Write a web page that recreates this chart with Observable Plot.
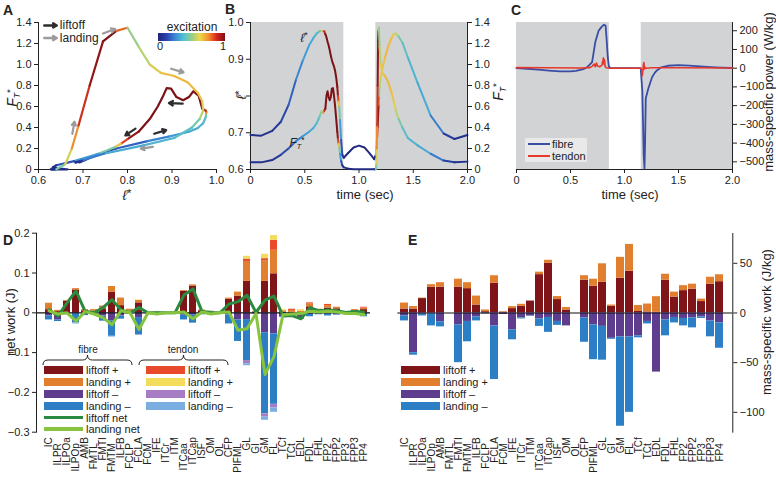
<!DOCTYPE html>
<html><head><meta charset="utf-8">
<script src="https://cdn.jsdelivr.net/npm/d3@7"></script>
<script src="https://cdn.jsdelivr.net/npm/@observablehq/plot@0.6"></script>
<style>
body{margin:0;background:#fff;}
#root{position:relative;width:776px;height:477px;overflow:hidden;font-family:"Liberation Sans",Arial,sans-serif;color:#222;}
#root > svg, #root > div.pl {position:absolute;}
.plab{position:absolute;font-weight:bold;font-size:14px;line-height:1;}
.lab{position:absolute;white-space:nowrap;line-height:1;}
.sw{position:absolute;height:8px;}
</style></head><body><div id="root"></div>
<script>
// ---------- data ----------
// shared time series (panels A & B): time (s), normalized fibre length, normalized tendon force, excitation
const time = [0,0.10,0.20,0.28,0.35,0.42,0.48,0.54,0.58,0.61,0.635,0.655,0.670,0.680,0.690,0.700,0.710,0.720,0.730,0.740,0.750,0.760,0.770,0.780,0.790,0.800,0.806,0.812,0.818,0.825,0.835,0.846,0.860,0.900,0.950,1.000,1.050,1.100,1.140,1.155,1.160,1.164,1.168,1.172,1.176,1.180,1.184,1.190,1.200,1.215,1.240,1.270,1.300,1.320,1.340,1.365,1.400,1.450,1.540,1.660,1.780,1.880,2.000];
const fibreLength = [0.694,0.692,0.705,0.730,0.775,0.845,0.895,0.938,0.958,0.970,0.976,0.977,0.977,0.976,0.968,0.960,0.948,0.938,0.925,0.910,0.898,0.888,0.880,0.868,0.850,0.825,0.800,0.785,0.770,0.735,0.680,0.640,0.632,0.645,0.660,0.665,0.660,0.643,0.628,0.640,0.660,0.675,0.690,0.715,0.745,0.775,0.800,0.825,0.850,0.875,0.905,0.935,0.958,0.968,0.970,0.962,0.945,0.905,0.836,0.747,0.698,0.683,0.694];
const tendonForce = [0.070,0.068,0.090,0.140,0.200,0.270,0.315,0.360,0.395,0.440,0.500,0.555,0.540,0.560,0.580,0.700,0.745,0.690,0.660,0.690,0.770,0.775,0.700,0.600,0.480,0.360,0.290,0.245,0.210,0.150,0.080,0.040,0.020,0.008,0.003,0.002,0.002,0.002,0.002,0.002,0.050,0.200,0.420,0.800,1.220,1.320,1.350,1.170,1.000,0.920,0.890,0.830,0.730,0.650,0.560,0.480,0.400,0.300,0.230,0.150,0.085,0.068,0.075];
const excitation = [0.05,0.05,0.07,0.12,0.18,0.25,0.30,0.33,0.35,0.38,0.45,0.55,0.75,0.92,1,1,1,1,1,1,1,1,1,1,1,0.97,0.85,0.65,0.45,0.30,0.15,0.06,0.03,0.02,0.02,0.02,0.02,0.02,0.03,0.45,0.60,0.75,0.88,0.97,1.0,0.80,0.50,0.55,0.62,0.66,0.68,0.67,0.65,0.62,0.55,0.45,0.40,0.36,0.33,0.23,0.10,0.05,0.05];
const phases = [{start:0,end:0.86},{start:1.155,end:2.0}];
const arrowsLiftoff = [{x1:0.818,y1:0.39,x2:0.795,y2:0.325},{x1:0.86,y1:0.34,x2:0.887,y2:0.375},{x1:0.924,y1:0.627,x2:0.893,y2:0.633}];
const arrowsLanding = [{x1:0.676,y1:0.34,x2:0.681,y2:0.455},{x1:0.745,y1:1.295,x2:0.772,y2:1.338},{x1:0.898,y1:0.96,x2:0.926,y2:0.925},{x1:0.857,y1:0.215,x2:0.83,y2:0.198}];
const arrowLegend = [{x1:0.613,y1:1.372,x2:0.641,y2:1.372,label:"liftoff"},{x1:0.613,y1:1.252,x2:0.641,y2:1.252,label:"landing"}];

// panel C: mass-specific power (W/kg)
const fibreTime = [0,0.1,0.2,0.3,0.4,0.5,0.55,0.6,0.62,0.66,0.70,0.73,0.76,0.79,0.81,0.825,0.835,0.845,0.855,0.87,0.9,1.0,1.1,1.15,1.165,1.172,1.178,1.185,1.19,1.197,1.22,1.255,1.28,1.3,1.34,1.4,1.5,1.6,1.7,1.8,1.9,2.0];
const fibrePower = [0,-3,-8,-13,-17,-17,-14,-8,-5,8,32,140,200,222,232,228,150,60,10,0,0,0,0,0,-120,-300,-470,-535,-420,-160,-110,-48,-25,-12,5,13,16,14,10,6,3,1];
const tendonTime = [0,0.3,0.6,0.68,0.70,0.72,0.73,0.74,0.75,0.77,0.79,0.80,0.805,0.81,0.815,0.82,0.83,0.86,1.0,1.15,1.16,1.165,1.17,1.175,1.18,1.185,1.19,1.2,1.25,1.5,2.0];
const tendonPower = [3,2,1,3,10,22,8,28,12,8,15,40,55,20,45,10,2,0,0,0,-10,-40,-15,20,30,-5,5,0,2,2,1];

// panels D & E
const muscles = ["IC","ILPR","ILPOa","ILPOp","AMB","FMTL","FMTI","FMTM","ILFB","FCLP","FCLA","FCM","IFE","ITCr","ITM","ITCaa","ITCap","ISF","OM","OL","CFP","PIFML","GL","GI","GM","FL","TCf","TCt","EDL","FDL","FHL","FP2","FPP2","FP3","FPP3","FP4"];
// D: net work (J)
const dFibreLiftoffPos = [0.008,0.003,0.029,0.056,0.005,0.004,0.010,0.052,0.018,0.004,0.025,0,0.001,0.001,0.002,0.054,0.066,0.005,0.002,0,0.034,0.042,0.079,0.002,0.079,0.098,0.001,0.001,0,0.015,0.006,0.012,0.010,0.002,0.005,0.008];
const dFibreLandingPos = [0.016,0.003,0.002,0.004,0.003,0.004,0.007,0.014,0.019,0.005,0.006,0,0.001,0,0,0.002,0.004,0.002,0.002,0,0.003,0.010,0.050,0.001,0.052,0.059,0.004,0.005,0.004,0.007,0.003,0.006,0.004,0.001,0.003,0.004];
const dTendonLiftoffPos = [0,0,0,0.001,0,0,0,0,0,0,0,0,0,0,0,0,0,0,0,0,0,0,0.006,0,0.005,0.025,0,0.003,0,0.003,0,0.003,0,0,0,0.002];
const dTendonLandingPos = [0,0,0,0,0,0,0,0,0,0,0.001,0,0,0,0,0,0,0,0,0,0,0,0.007,0,0.011,0.012,0.003,0,0.004,0,0,0,0,0,0,0];
const dFibreLiftoffNeg = [-0.008,-0.018,-0.002,-0.003,-0.004,0,-0.008,-0.020,-0.008,-0.002,-0.012,-0.002,-0.003,-0.001,-0.002,-0.006,-0.006,-0.003,-0.005,0,-0.005,-0.018,-0.017,-0.003,-0.050,-0.053,-0.010,-0.008,-0.016,-0.004,-0.002,-0.003,-0.002,-0.002,-0.002,-0.004];
const dFibreLandingNeg = [-0.010,-0.004,-0.003,-0.022,-0.003,0,-0.013,-0.039,-0.008,-0.001,-0.043,0,-0.001,0,0,-0.012,-0.020,-0.002,0,0,-0.023,-0.054,-0.103,0,-0.204,-0.177,-0.002,-0.003,0,-0.006,-0.003,-0.005,-0.004,-0.001,-0.002,-0.006];
const dTendonLiftoffNeg = [0,0,0,0,0,0,0,0,0,0,0,0,0,0,0,0,0,0,0,0,0,0,-0.008,0,-0.008,-0.009,0,0,0,0,0,0,0,0,0,0];
const dTendonLandingNeg = [0,0,0,-0.003,0,0,0,-0.002,0,0,-0.002,0,0,0,0,0,0,0,0,0,0,0,-0.005,0,-0.008,-0.011,0,0,0,0,0,0,0,0,0,0];
const dLiftoffNet = [0.008,-0.008,0.025,0.055,0.004,0,0.013,0.033,0.007,0,0.013,0,0,0,0,0.045,0.060,0.003,0.001,0,0.022,0.028,0.044,0.001,0.032,0.042,-0.008,-0.007,-0.015,0.013,0.005,0.007,0.005,0.001,0.003,0.002];
const dLandingNet = [0.005,-0.003,0,-0.021,0.003,-0.003,-0.012,-0.030,0.005,0,-0.042,0,-0.003,0,0,0.002,-0.015,0.002,-0.003,0,0.002,-0.044,-0.040,-0.002,-0.155,-0.110,-0.005,-0.003,-0.002,0.004,0.002,0.004,0.002,-0.002,-0.002,-0.005];
// E: mass-specific work (J/kg)
const eLiftoffPos = [4,4,14.5,26,26,0,26,24.5,8,1.3,30,0.8,4.4,6.7,12,38.6,50,13.5,3,0,33,27,31,6.7,35,42,1.5,1,0.7,33,16,22.5,24,11.5,29,31.5];
const eLandingPos = [6,2.5,0.5,2.5,4.5,0,8,6,9,1.7,7.5,0.5,2,2,0,2.5,3,3,2.5,0,4.5,7,18.5,1.3,21,27,6,8,15.7,6,5,5,5,2.5,7,7];
const eLiftoffNeg = [-3,-40,-1,-1,-9,0,-12,-8.5,-4,-0.5,-13,-1.5,-17,-5,-3,-6,-4.5,-8.5,-13,0,-5,-12,-13.5,-25.5,-24,-24,-23,-8.5,-59.5,-7,-4.5,-5.5,-5,-4,-8,-10];
const eLandingNeg = [-5,-2.5,-2,-12,-5,0,-38,-20.5,-4,-0.5,-54,0,-10,-1,-0.5,-7.5,-15,-4,0,0,-24.5,-35,-34,-1,-90,-76,-2,-2.5,0,-16,-5.5,-7.5,-10,-1.5,-16,-25.5];

// ---------- styles ----------
const jet = ["#1f2478","#2a43b0","#3a86d3","#4cc0dc","#93cf8a","#f0d84a","#f2932f","#d9271f","#7b1215"];
const excScale = {type:"linear", domain:[0,1], interpolate: d3.interpolateRgbBasis(jet)};
const font = "Liberation Sans, Arial, sans-serif";
const baseStyle = {fontFamily: font, fontSize: "11px", color: "#222", background: "transparent", overflow: "visible"};
const fmt1 = d => Math.abs(d) < 1e-9 ? "0" : d3.format(".1f")(d);
const series = [
  {name:"fibre liftoff +", color:"#7f1518"},
  {name:"fibre landing +", color:"#e17f2e"},
  {name:"tendon liftoff +", color:"#ea4a2c"},
  {name:"tendon landing +", color:"#f3dc5a"},
  {name:"fibre liftoff \u2013", color:"#5e3c8e"},
  {name:"fibre landing \u2013", color:"#2c7fc5"},
  {name:"tendon liftoff \u2013", color:"#a67cc4"},
  {name:"tendon landing \u2013", color:"#7aaee0"}
];
const liftoffNetColor = "#2a8a3e", landingNetColor = "#86c440";

const root = document.getElementById("root");
function put(el, left, top) { el.style.position = "absolute"; el.style.left = left + "px"; el.style.top = top + "px"; root.appendChild(el); return el; }
function label(html, cx, cy, size, rotate, extra) {
  const d = document.createElement("div");
  d.className = "lab"; d.innerHTML = html; d.style.fontSize = size + "px";
  d.style.left = cx + "px"; d.style.top = cy + "px";
  d.style.transform = "translate(-50%,-50%)" + (rotate ? " rotate(-90deg)" : "");
  if (extra) Object.assign(d.style, extra);
  root.appendChild(d); return d;
}
const ellHTML = '<i>\u2113</i><span style="font-size:0.8em;vertical-align:0.35em">*</span>';
const FtHTML = '<i>F</i><i style="font-size:0.62em;vertical-align:-0.3em">T</i><span style="font-size:0.7em;vertical-align:0.45em">*</span>';

const rows = time.map((t, i) => ({t, ell: fibreLength[i], force: tendonForce[i], exc: excitation[i]}));

// ---------- A ----------
const A = Plot.plot({
  width: 250, height: 205, marginLeft: 38, marginRight: 34, marginTop: 22, marginBottom: 36,
  style: baseStyle,
  x: {domain: [0.6, 1.0]}, y: {domain: [0, 1.4]}, color: excScale,
  marks: [
    Plot.frame({anchor: "left", stroke: "#222"}), Plot.frame({anchor: "bottom", stroke: "#222"}),
    Plot.axisX({ticks: [0.6,0.7,0.8,0.9,1.0], tickFormat: fmt1, tickSize: 4, tickPadding: 3, label: null}),
    Plot.axisY({ticks: [0,0.2,0.4,0.6,0.8,1.0,1.2,1.4], tickFormat: fmt1, tickSize: 4, tickPadding: 3, label: null}),
    Plot.line(rows, {x: "ell", y: "force", z: null, stroke: "exc", strokeWidth: 2.2}),
    Plot.arrow(arrowsLiftoff, {x1: "x1", y1: "y1", x2: "x2", y2: "y2", stroke: "#2d2d2d", strokeWidth: 2.2, headLength: 6}),
    Plot.arrow(arrowsLanding, {x1: "x1", y1: "y1", x2: "x2", y2: "y2", stroke: "#9b9b9b", strokeWidth: 2.2, headLength: 6}),
    Plot.arrow(arrowLegend.slice(0,1), {x1: "x1", y1: "y1", x2: "x2", y2: "y2", stroke: "#2d2d2d", strokeWidth: 2.4, headLength: 6}),
    Plot.arrow(arrowLegend.slice(1), {x1: "x1", y1: "y1", x2: "x2", y2: "y2", stroke: "#9b9b9b", strokeWidth: 2.4, headLength: 6}),
    Plot.text(arrowLegend, {x: d => d.x2 + 0.007, y: "y1", text: "label", textAnchor: "start", fontSize: 12, fill: "#222"})
  ]
});
put(A, 0, 0);
label(ellHTML, 127, 195, 14);
label(FtHTML, 13, 98, 14, true);
// colour bar
label("excitation", 192, 27, 12);
const cb = document.createElement("div");
cb.style.width = "67px"; cb.style.height = "8px";
cb.style.background = "linear-gradient(to right," + jet.join(",") + ")";
put(cb, 158, 33);
label("0", 160, 46, 11); label("1", 223, 46, 11);

// ---------- B ----------
const B1 = Plot.plot({
  width: 300, height: 205, marginLeft: 35, marginRight: 48, marginTop: 22, marginBottom: 36,
  style: baseStyle,
  x: {domain: [0, 2]}, y: {domain: [0.6, 1.0]}, color: excScale,
  marks: [
    Plot.rect(phases, {x1: "start", x2: "end", fill: "#d2d3d5"}),
    Plot.frame({anchor: "left", stroke: "#222"}), Plot.frame({anchor: "bottom", stroke: "#222"}),
    Plot.axisX({ticks: [0,0.5,1,1.5,2], tickFormat: fmt1, tickSize: 4, tickPadding: 3, label: null}),
    Plot.axisY({ticks: [0.6,0.7,0.8,0.9,1.0], tickFormat: d => Math.abs(d-0.8) < 1e-9 ? "" : d3.format(".1f")(d), tickSize: 4, tickPadding: 3, label: null}),
    Plot.line(rows, {x: "t", y: "ell", z: null, stroke: "exc", strokeWidth: 2})
  ]
});
put(B1, 215, 0);
const B2 = Plot.plot({
  width: 300, height: 205, marginLeft: 35, marginRight: 48, marginTop: 22, marginBottom: 36,
  style: baseStyle,
  x: {domain: [0, 2], axis: null}, y: {domain: [0, 1.4]}, color: excScale,
  marks: [
    Plot.frame({anchor: "right", stroke: "#222"}),
    Plot.axisY({anchor: "right", ticks: [0,0.2,0.4,0.6,0.8,1.0,1.2,1.4], tickFormat: fmt1, tickSize: 4, tickPadding: 3, label: null}),
    Plot.line(rows, {x: "t", y: "force", z: null, stroke: "exc", strokeWidth: 2})
  ]
});
put(B2, 215, 0);
label(ellHTML, 241, 95, 14, true);
label(FtHTML, 499, 92, 14, true);
label(ellHTML, 304, 37, 12);
label(FtHTML, 297, 143, 12);
label("time (sec)", 365, 194, 13);

// ---------- C ----------
const fibreRows = fibreTime.map((t, i) => ({t, p: fibrePower[i]}));
const tendonRows = tendonTime.map((t, i) => ({t, p: tendonPower[i]}));
const C = Plot.plot({
  width: 296, height: 205, marginLeft: 36, marginRight: 44, marginTop: 22, marginBottom: 36,
  style: baseStyle,
  x: {domain: [0, 2]}, y: {domain: [-541, 244]},
  marks: [
    Plot.rect(phases, {x1: "start", x2: "end", fill: "#d2d3d5"}),
    Plot.frame({anchor: "right", stroke: "#222"}), Plot.frame({anchor: "bottom", stroke: "#222"}),
    Plot.axisX({ticks: [0,0.5,1,1.5,2], tickFormat: fmt1, tickSize: 4, tickPadding: 3, label: null}),
    Plot.axisY({anchor: "right", ticks: d3.range(-500, 201, 100), tickSize: 4, tickPadding: 3, label: null}),
    Plot.line(fibreRows, {x: "t", y: "p", stroke: "#3a4da6", strokeWidth: 1.8}),
    Plot.line(tendonRows, {x: "t", y: "p", stroke: "#e8382c", strokeWidth: 1.6})
  ]
});
put(C, 480, 0);
label("time (sec)", 630, 194, 13);
label("mass-specific power (W/kg)", 768, 92, 13, true);
const cl = document.createElement("div");
cl.style.cssText = "width:62px;height:24px;background:#e9e9ea;";
put(cl, 525, 137.5);
const cl1 = document.createElement("div"); cl1.style.cssText = "width:22px;height:2px;background:#3a4da6"; put(cl1, 528, 143);
const cl2 = document.createElement("div"); cl2.style.cssText = "width:22px;height:2px;background:#e8382c"; put(cl2, 528, 155);
label("fibre", 552, 144, 11, false, {transform: "translate(0,-50%)"});
label("tendon", 552, 156, 11, false, {transform: "translate(0,-50%)"});

// ---------- D ----------
function longRows(list) {
  const out = [];
  list.forEach(s => s.values.forEach((v, i) => out.push({muscle: muscles[i], series: s.name, value: v})));
  return out;
}
const dRows = longRows([
  {name: series[0].name, values: dFibreLiftoffPos}, {name: series[1].name, values: dFibreLandingPos},
  {name: series[2].name, values: dTendonLiftoffPos}, {name: series[3].name, values: dTendonLandingPos},
  {name: series[4].name, values: dFibreLiftoffNeg}, {name: series[5].name, values: dFibreLandingNeg},
  {name: series[6].name, values: dTendonLiftoffNeg}, {name: series[7].name, values: dTendonLandingNeg}
]);
const colorBars = {domain: series.map(s => s.name), range: series.map(s => s.color)};
const evenM = muscles.filter((d, i) => i % 2 === 0), oddM = muscles.filter((d, i) => i % 2 === 1);
const liftNetRows = muscles.map((m, i) => ({muscle: m, value: dLiftoffNet[i]}));
const landNetRows = muscles.map((m, i) => ({muscle: m, value: dLandingNet[i]}));
const D = Plot.plot({
  width: 390, height: 257, marginLeft: 36, marginRight: 20, marginTop: 12.7, marginBottom: 45.3,
  style: baseStyle,
  x: {domain: muscles, range: [41.3, 370.4], padding: 0.18}, y: {domain: [-0.3, 0.2]},
  color: colorBars,
  marks: [
    Plot.barY(dRows, {x: "muscle", y: "value", fill: "series"}),
    Plot.ruleY([0], {stroke: "#111", strokeWidth: 1.2}),
    Plot.lineY(liftNetRows, {x: "muscle", y: "value", stroke: liftoffNetColor, strokeWidth: 3}),
    Plot.lineY(landNetRows, {x: "muscle", y: "value", stroke: landingNetColor, strokeWidth: 3}),
    Plot.frame({anchor: "left", stroke: "#222"}),
    Plot.axisY({ticks: [0.2,0.1,0,-0.1,-0.2,-0.3], tickFormat: fmt1, tickSize: 4, tickPadding: 3, label: null}),
    Plot.axisX(evenM, {tickRotate: -90, tickSize: 0, tickPadding: 5, fontSize: 10, label: null}),
    Plot.axisX(oddM, {tickRotate: -90, tickSize: 0, tickPadding: 11, fontSize: 10, label: null})
  ]
});
put(D, 0, 220);
label("net work (J)", 10, 322, 13, true);

// D legend
function brace(x1, x2, yTop, yBot) {
  const m = (x1 + x2) / 2, ym = (yTop + yBot) / 2;
  return `M${x1},${yBot} Q${x1},${ym} ${x1+5},${ym} L${m-5},${ym} Q${m},${ym} ${m},${yTop} Q${m},${ym} ${m+5},${ym} L${x2-5},${ym} Q${x2},${ym} ${x2},${yBot}`;
}
const ns = "http://www.w3.org/2000/svg";
const bsvg = document.createElementNS(ns, "svg");
bsvg.setAttribute("width", 776); bsvg.setAttribute("height", 477);
bsvg.style.position = "absolute"; bsvg.style.left = "0px"; bsvg.style.top = "0px"; bsvg.style.pointerEvents = "none";
[[43, 132], [139, 228]].forEach(([a, b]) => {
  const p = document.createElementNS(ns, "path");
  p.setAttribute("d", brace(a, b, 355, 365)); p.setAttribute("fill", "none"); p.setAttribute("stroke", "#222"); p.setAttribute("stroke-width", "1");
  bsvg.appendChild(p);
});
root.appendChild(bsvg);
label("fibre", 88, 350, 10);
label("tendon", 183, 350, 10);
const legRowsY = [370, 382, 394, 406];
const legText = ["liftoff +", "landing +", "liftoff \u2013", "landing \u2013"];
const fibreIdx = [0, 1, 4, 5], tendonIdx = [2, 3, 6, 7];
function swatch(x, y, color, h) { const d = document.createElement("div"); d.className = "sw"; d.style.width = "39px"; d.style.height = h + "px"; d.style.background = color; put(d, x, y - h / 2); }
legRowsY.forEach((y, k) => {
  swatch(44, y, series[fibreIdx[k]].color, 8);
  label(legText[k], 86, y, 11, false, {transform: "translate(0,-50%)"});
  swatch(146, y, series[tendonIdx[k]].color, 8);
  label(legText[k], 188, y, 11, false, {transform: "translate(0,-50%)"});
});
swatch(44, 417.5, liftoffNetColor, 3.5); label("liftoff net", 86, 417.5, 11, false, {transform: "translate(0,-50%)"});
swatch(44, 429, landingNetColor, 3.5); label("landing net", 86, 429, 11, false, {transform: "translate(0,-50%)"});

// ---------- E ----------
const eRows = longRows([
  {name: series[0].name, values: eLiftoffPos}, {name: series[1].name, values: eLandingPos},
  {name: series[4].name, values: eLiftoffNeg}, {name: series[5].name, values: eLandingNeg}
]);
const E = Plot.plot({
  width: 386, height: 257, marginLeft: 7.3, marginRight: 43.7, marginTop: 13, marginBottom: 45.3,
  style: baseStyle,
  x: {domain: muscles, range: [7.3, 335.8], padding: 0.15}, y: {domain: [-120, 80]},
  color: colorBars,
  marks: [
    Plot.barY(eRows, {x: "muscle", y: "value", fill: "series"}),
    Plot.ruleY([0], {stroke: "#111", strokeWidth: 1.2}),
    Plot.frame({anchor: "right", stroke: "#222"}),
    Plot.axisY({anchor: "right", ticks: [50, 0, -50, -100], tickSize: 4, tickPadding: 3, label: null}),
    Plot.axisX(evenM, {tickRotate: -90, tickSize: 0, tickPadding: 5, fontSize: 10, label: null}),
    Plot.axisX(oddM, {tickRotate: -90, tickSize: 0, tickPadding: 11, fontSize: 10, label: null})
  ]
});
put(E, 390, 220);
label("mass-specific work (J/kg)", 766, 322, 13, true);
[370, 381.7, 393.5, 405.5].forEach((y, k) => {
  swatch(401, y, series[fibreIdx[k]].color, 8);
  label(legText[k], 443, y, 11, false, {transform: "translate(0,-50%)"});
});

// panel letters
[["A", 3, 3], ["B", 225, 2], ["C", 511, 3], ["D", 3, 233], ["E", 408, 233]].forEach(([t, x, y]) => {
  const d = document.createElement("div"); d.className = "plab"; d.textContent = t; put(d, x, y);
});
</script></body></html>
